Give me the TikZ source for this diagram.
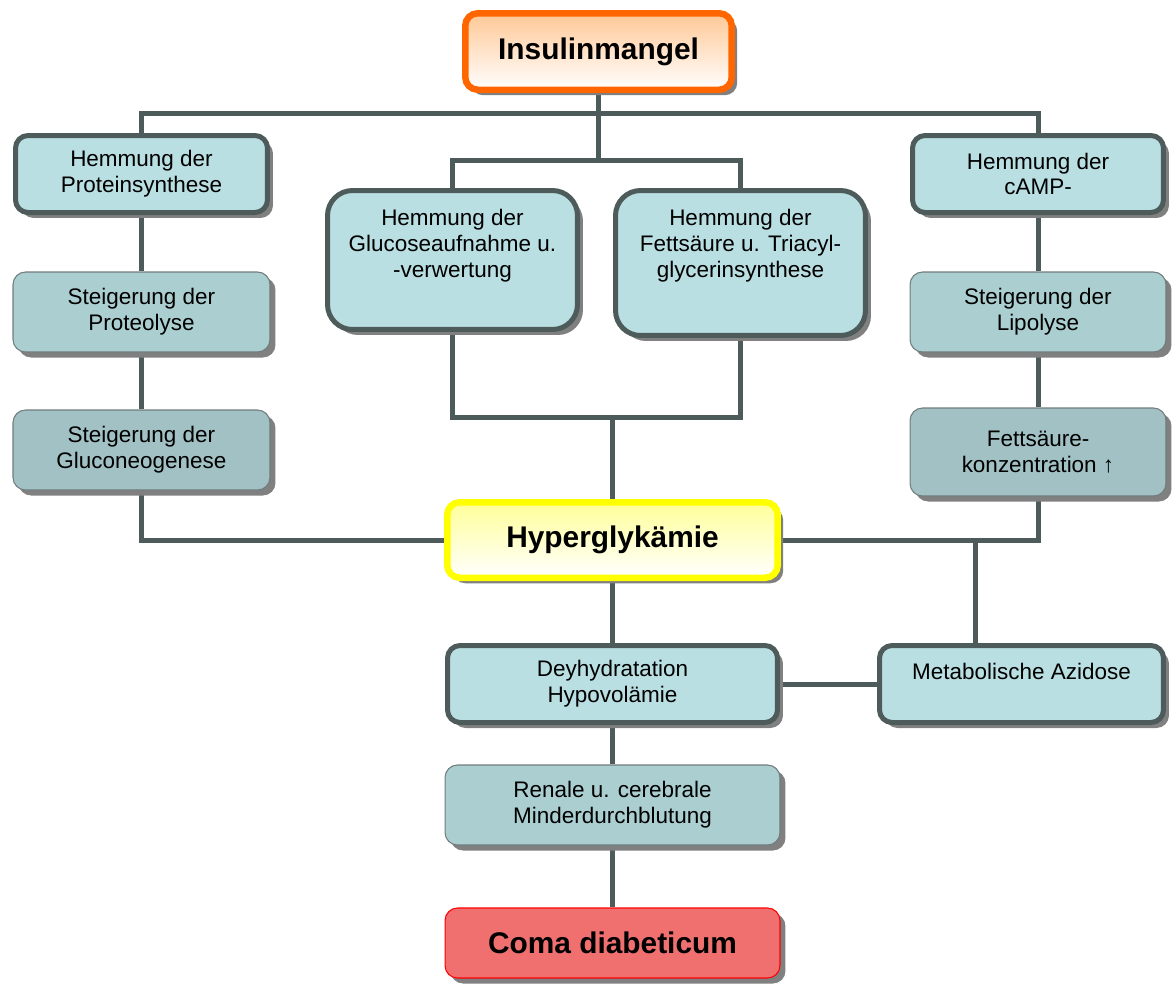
\documentclass[tikz,border=0pt]{standalone}
\usepackage{fontspec}
\setmainfont{Liberation Sans}
\usetikzlibrary{shadows,backgrounds}

\definecolor{cyanone}{HTML}{B9DFE2}
\definecolor{cyantwo}{HTML}{ABCFD1}
\definecolor{cyanthree}{HTML}{A1C1C4}
\definecolor{slate}{HTML}{4E5B5B}
\definecolor{insorange}{HTML}{FF6600}
\definecolor{peach}{HTML}{FFC896}
\definecolor{hypyellow}{HTML}{FFFF00}
\definecolor{paleyellow}{HTML}{FFFF99}
\definecolor{comared}{HTML}{F07070}

\tikzset{
  shadowed/.style={drop shadow={shadow xshift=0.11cm, shadow yshift=-0.11cm, fill=black!50, opacity=1}},
  box/.style={shadowed, rounded corners=0.25cm, align=center, inner sep=0pt,
    font=\fontsize{12.8}{14.7}\selectfont},
  boxtext/.style={align=center, inner sep=0pt, font=\fontsize{12.8}{14.7}\selectfont},
  mainbox/.style={box, draw=slate, line width=0.1cm, fill=cyanone},
  subbox/.style={box, draw=slate!80, line width=0.6pt},
  keybox/.style={box, line width=0.13cm, font=\bfseries\fontsize{17}{20}\selectfont},
  link/.style={draw=slate, line width=0.1cm},
}

\begin{document}
\begin{tikzpicture}[x=0.02cm, y=-0.02cm]
\useasboundingbox (0,0) rectangle (1174,985);

% top
\node[keybox, draw=insorange, top color=peach, bottom color=white,
  minimum width=5.33cm, minimum height=1.53cm] (ins) at (598.5,51.5) {Insulinmangel};

% left column
\node[mainbox, minimum width=5.04cm, minimum height=1.54cm] (prsyn) at (141.5,174) {Hemmung der\\Proteinsynthese};
\node[subbox, fill=cyantwo, minimum width=5.14cm, minimum height=1.6cm] (prolyse) at (141.5,312) {Steigerung der\\Proteolyse};
\node[subbox, fill=cyanthree, minimum width=5.14cm, minimum height=1.6cm] (gneo) at (141.5,450) {Steigerung der\\Gluconeogenese};

% middle
\node[mainbox, rounded corners=0.5cm, minimum width=5.0cm, minimum height=2.78cm] (gluc) at (452.5,260) {};
\node[boxtext, anchor=north] (glucT) at ([yshift=-0.42cm]gluc.north) {Hemmung der\\Glucoseaufnahme u.\\-verwertung};
\node[mainbox, rounded corners=0.5cm, minimum width=5.0cm, minimum height=2.9cm] (fett) at (740.5,263) {};
\node[boxtext, anchor=north] (fettT) at ([yshift=-0.42cm]fett.north) {Hemmung der\\Fettsäure u. Triacyl-\\glycerinsynthese};

% right column
\node[mainbox, minimum width=5.02cm, minimum height=1.54cm] (camp) at (1038,174) {Hemmung der\\cAMP-};
\node[subbox, fill=cyantwo, minimum width=5.12cm, minimum height=1.6cm] (lipo) at (1038,312) {Steigerung der\\Lipolyse};
\node[subbox, fill=cyanthree, minimum width=5.12cm, minimum height=1.76cm] (fkonz) at (1038,452) {Fettsäure-\\konzentration ↑};

% center
\node[keybox, draw=hypyellow, top color=paleyellow, bottom color=white,
  minimum width=6.61cm, minimum height=1.51cm] (hyper) at (612.5,540) {Hyperglykämie};
\node[mainbox, minimum width=6.6cm, minimum height=1.54cm] (dehyd) at (612.5,684) {Deyhydratation\\Hypovolämie};
\node[mainbox, minimum width=5.68cm, minimum height=1.54cm] (azid) at (1021.5,684) {Metabolische Azidose\\\mbox{}};
\node[subbox, fill=cyantwo, minimum width=6.7cm, minimum height=1.6cm] (renal) at (612.5,805) {Renale u. cerebrale\\Minderdurchblutung};
\node[box, draw=red, line width=0.6pt, fill=comared, font=\bfseries\fontsize{17}{20}\selectfont,
  minimum width=6.7cm, minimum height=1.4cm] (coma) at (612.5,943) {Coma diabeticum};

% junctions
\coordinate (j1) at (598.5,113);
\coordinate (j2) at (598.5,160);
\coordinate (j3) at (612.5,417);
\coordinate (j4) at (975,540);

\begin{scope}[on background layer]
  \draw[link] (ins.south) -- (j2);
  \draw[link] (prsyn.north) |- (j1) -| (camp.north);
  \draw[link] (gluc.north) |- (j2) -| (fett.north);
  \draw[link] (prsyn) -- (prolyse) -- (gneo);
  \draw[link] (camp) -- (lipo) -- (fkonz);
  \draw[link] (gneo.south) |- (hyper.west);
  \draw[link] (gluc.south) |- (j3) -| (fett.south);
  \draw[link] (j3) -- (hyper.north);
  \draw[link] (hyper.east) -| (fkonz.south);
  \draw[link] (j4) -- (j4 |- azid.north);
  \draw[link] (hyper) -- (dehyd) -- (renal) -- (coma);
  \draw[link] (dehyd.east) -- (azid.west);
\end{scope}
\end{tikzpicture}
\end{document}
